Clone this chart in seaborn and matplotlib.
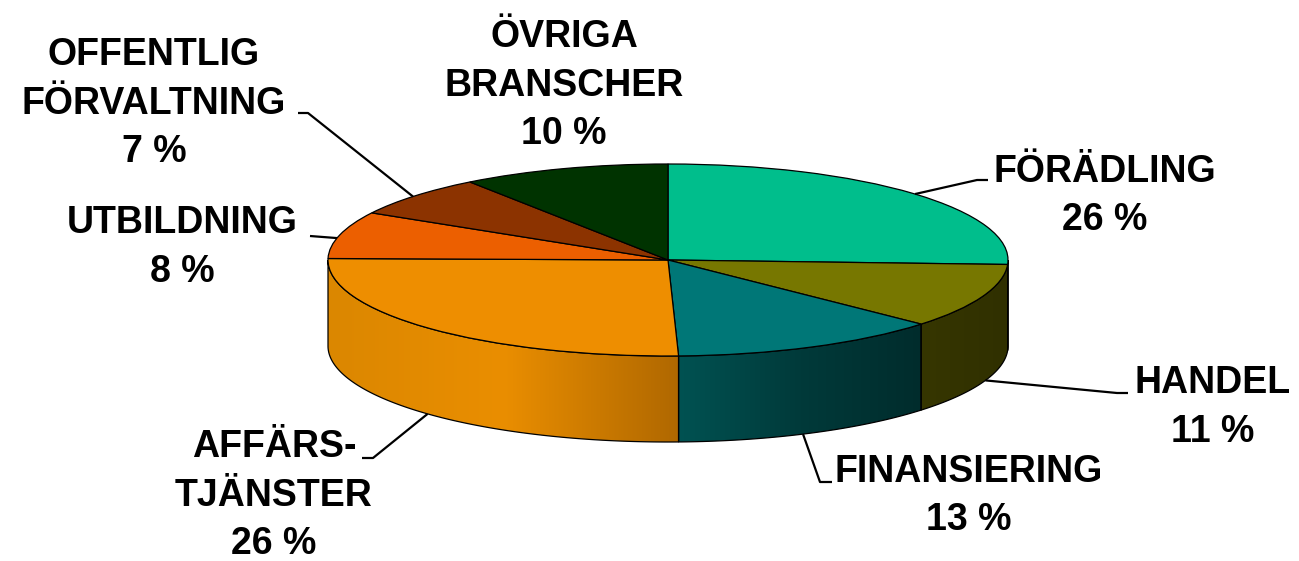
import numpy as np
import matplotlib
matplotlib.use("Agg")
import matplotlib.pyplot as plt
from matplotlib.colors import LinearSegmentedColormap
from matplotlib.patches import Polygon
import seaborn as sns

# ---------------- data ----------------
categories = ["FÖRÄDLING", "HANDEL", "FINANSIERING", "AFFÄRSTJÄNSTER",
              "UTBILDNING", "OFFENTLIG FÖRVALTNING", "ÖVRIGA BRANSCHER"]
shares = [26, 11, 13, 26, 8, 7, 10]
label_lines = [["FÖRÄDLING"], ["HANDEL"], ["FINANSIERING"], ["AFFÄRS-", "TJÄNSTER"],
               ["UTBILDNING"], ["OFFENTLIG", "FÖRVALTNING"], ["ÖVRIGA", "BRANSCHER"]]

top_colors = ["#00BE8C", "#777700", "#007777", "#EE8E00", "#EC5F00", "#8C3300", "#003300"]
side_colors = [["#006A4E", "#004A36"],
               ["#363600", "#303000"],
               ["#005252", "#003A3A", "#002C2C"],
               ["#DB8700", "#EA8E00", "#B06800"],
               ["#B04600", "#903800"],
               ["#6A2600", "#501C00"],
               ["#002400", "#001A00"]]

# ---------------- layout (pixels) ----------------
W, H = 1299, 561
CX, CY, RX, RY, DEPTH = 668, 260, 340, 96, 86
# label: centre x, first baseline y
label_pos = [(1105, 182), (1213, 393), (969, 482), (274, 457),
             (182, 233), (154, 65), (564, 47)]
LINE_STEP = 48.5
# leader: label-side points (px), attach angle (deg), rim
leaders = [([(988, 180), (977, 180)], 43.4, "top"),
           ([(1128, 393), (1117, 393)], -21.0, "bottom"),
           ([(832, 482), (820, 482)], -66.6, "bottom"),
           ([(362, 458), (373, 458)], -135.0, "bottom"),
           ([(310, 236)], 166.8, "top"),
           ([(298, 113), (308, 113)], 138.6, "top"),
           None]

sns.set_theme(style="white")
plt.rcParams["font.family"] = ["Liberation Sans", "DejaVu Sans"]


def X(px):
    return (px - CX) / RX


def Y(py):
    return (CY - py) / RY


d = DEPTH / RY

fig = plt.figure(figsize=(W / 100, H / 100), dpi=100)
ax = fig.add_axes([0, 0, 1, 1])

# ---------------- side faces ----------------
total = float(sum(shares))
start = 90.0
for i, v in enumerate(shares):
    span = v / total * 360.0
    hi, lo = start, start - span
    start = lo
    lo2, hi2 = max(lo, -180.0), min(hi, 0.0)
    if hi2 <= lo2:
        continue
    t = np.radians(np.linspace(lo2, hi2, 200))
    xs, ys = np.cos(t), np.sin(t)
    pts = np.concatenate([np.column_stack([xs, ys]),
                          np.column_stack([xs[::-1], ys[::-1] - d])])
    poly = Polygon(pts, closed=True, facecolor="none", edgecolor="black",
                   linewidth=0.9, zorder=2)
    ax.add_patch(poly)
    cmap = LinearSegmentedColormap.from_list(f"side{i}", side_colors[i])
    grad = np.linspace(0, 1, 256).reshape(1, -1)
    im = ax.imshow(grad, cmap=cmap, aspect="auto", zorder=1,
                   extent=(xs.min(), xs.max(), ys.min() - d, ys.max()),
                   interpolation="bilinear")
    im.set_clip_path(poly)

# ---------------- top face ----------------
wedges, _ = ax.pie(shares, colors=top_colors, startangle=90, counterclock=False,
                   radius=1, center=(0, 0),
                   wedgeprops=dict(edgecolor="black", linewidth=0.9))
for w in wedges:
    w.set_zorder(3)

# ---------------- labels ----------------
for i, v in enumerate(shares):
    px, py = label_pos[i]
    lines = label_lines[i] + [f"{v} %"]
    for k, line in enumerate(lines):
        ax.text(X(px), Y(py + k * LINE_STEP), line, ha="center", va="baseline",
                fontsize=27, fontweight="bold", color="black", zorder=5)
    ld = leaders[i]
    if ld is not None:
        pts, ang, rim = ld
        a = np.radians(ang)
        ex, ey = np.cos(a), np.sin(a) - (d if rim == "bottom" else 0)
        xs = [X(p[0]) for p in pts] + [ex]
        ys = [Y(p[1]) for p in pts] + [ey]
        ax.plot(xs, ys, color="black", linewidth=1.6, zorder=4,
                solid_capstyle="butt")

ax.set_aspect("auto")
ax.set_xlim(X(0), X(W))
ax.set_ylim(Y(H), Y(0))
ax.axis("off")

fig.savefig("out.png", dpi=100, facecolor="white")
